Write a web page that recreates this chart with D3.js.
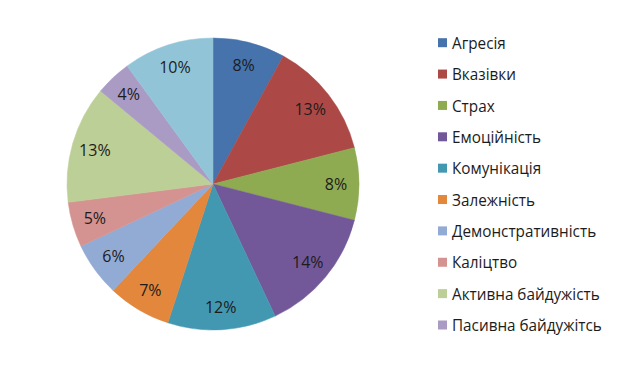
<!DOCTYPE html>
<html><head><meta charset="utf-8">
<script src="https://cdn.jsdelivr.net/npm/d3@7"></script>
<style>html,body{margin:0;padding:0;background:#fff;}svg{display:block;}</style>
</head><body>
<svg id="chart" width="618" height="366"></svg>
<script>
const categories = ["Агресія","Вказівки","Страх","Емоційність","Комунікація","Залежність","Демонстративність","Каліцтво","Активна байдужість","Пасивна байдужітсь","Інше"];
const values = [8,13,8,14,12,7,6,5,13,4,10];
const labels = ["8%","13%","8%","14%","12%","7%","6%","5%","13%","4%","10%"];
const colors = ["#4673ab","#ac4946","#8eab52","#735899","#4398b1","#e3873d","#92abd4","#d49391","#bccf96","#aa9bc5","#92c4d8"];
const legendCount = 10;

const svg = d3.select("#chart");
const cx = 213, cy = 184, R = 146;
const font = "'Open Sans', sans-serif";

const pie = d3.pie().value(d => d).sort(null);
const arcs = pie(values);
const arc = d3.arc().innerRadius(0).outerRadius(R);
const labelArc = d3.arc().innerRadius(123).outerRadius(123);

const g = svg.append("g").attr("transform", `translate(${cx},${cy})`);
g.selectAll("path").data(arcs).join("path")
  .attr("d", arc)
  .attr("fill", (d,i) => colors[i])
  .attr("stroke", (d,i) => colors[i])
  .attr("stroke-width", 0.5);

g.selectAll("text").data(arcs).join("text")
  .attr("transform", d => `translate(${labelArc.centroid(d)})`)
  .attr("text-anchor", "middle")
  .attr("dominant-baseline", "central")
  .attr("font-family", font)
  .attr("font-size", 16)
  .attr("fill", "#1c1c1c")
  .text((d,i) => labels[i]);

const color = d3.scaleOrdinal().domain(categories).range(colors);
const ly = d3.scalePoint().domain(categories.slice(0, legendCount)).range([42.7, 325]);
const leg = svg.append("g");
const items = leg.selectAll("g").data(categories.slice(0, legendCount)).join("g")
  .attr("transform", d => `translate(438,${ly(d)})`);
items.append("rect").attr("x", 0).attr("y", -4.5).attr("width", 9).attr("height", 9)
  .attr("fill", d => color(d));
const texts = items.append("text")
  .attr("dominant-baseline", "central")
  .attr("font-family", font)
  .attr("font-size", 16.5)
  .attr("fill", "#1c1c1c")
  .text(d => d);
// compress horizontally so the longest label spans the same width as in the reference
let maxW = 0;
texts.each(function(){ maxW = Math.max(maxW, this.getComputedTextLength()); });
const sx = Math.min(1, 150 / maxW);
texts.attr("transform", `translate(14,0) scale(${sx},1)`);
</script>
</body></html>
